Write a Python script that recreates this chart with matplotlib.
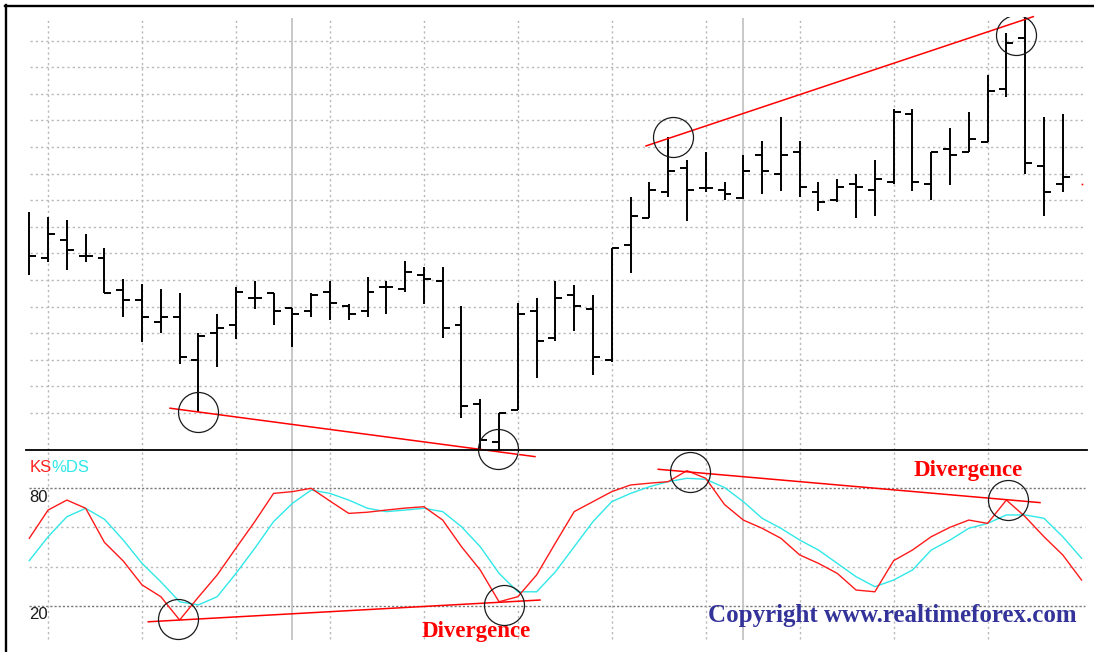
import numpy as np
import matplotlib
matplotlib.use('Agg')
import matplotlib.pyplot as plt
from matplotlib.lines import Line2D

# daily OHLC bars (price in pips above an arbitrary base)
bar_open = [np.nan, 78.2, 85.2, 79.0, 78.3, 66.2, 62.5, 54.2, 56.1, 39.9,
            50.0, 53.1, 63.3, 65.2, 59.4, 58.3, 65.5, 60.2, 58.3, 67.4,
            66.5, 71.9, 69.5, 53.1, 23.4, 9.0, 21.1, 58.3, 48.3, 64.4,
            59.2, 39.8, 83.2, 93.2, 103.2, 112.0, 104.7, 103.8, 100.7, 117.0,
            109.8, 118.0, 103.2, 100.1, 106.0, 103.8, 106.7, 132.3, 106.0, 119.1,
            118.0, 122.0, 141.8, 161.1, 113.0, 106.0]
bar_high = [95.4, 93.5, 92.4, 87.2, 82.0, 70.4, 68.4, 66.5, 65.2, 50.0,
            57.2, 67.3, 69.5, 65.2, 59.4, 65.0, 69.5, 61.0, 71.0, 69.5,
            77.1, 75.0, 75.0, 60.2, 25.3, 20.1, 61.2, 63.3, 69.5, 68.2,
            64.4, 81.9, 101.3, 107.0, 123.9, 115.1, 118.2, 107.0, 117.0, 122.1,
            131.4, 122.1, 107.0, 108.0, 109.8, 115.1, 134.2, 134.2, 118.2, 127.3,
            133.3, 147.1, 162.7, 169.0, 131.2, 132.3]
bar_low = [71.9, 76.8, 73.8, 76.8, 65.2, 56.0, 46.8, 50.0, 38.3, 20.5,
           37.4, 47.9, 59.0, 53.0, 44.9, 56.2, 55.0, 55.0, 56.1, 57.1,
           65.4, 61.1, 48.1, 18.0, 6.1, 5.7, 21.1, 33.3, 47.0, 50.9,
           34.3, 39.3, 72.7, 93.2, 101.3, 92.2, 103.2, 100.1, 100.3, 102.3,
           103.6, 101.3, 96.1, 99.2, 93.2, 94.1, 106.1, 103.6, 100.1, 105.6,
           118.0, 122.0, 138.7, 109.8, 94.1, 103.2]
bar_close = [79.0, 87.2, 81.2, 79.0, 65.2, 62.5, 56.1, 56.1, 41.2, 48.9,
             52.1, 65.5, 63.3, 58.3, 57.2, 64.4, 61.2, 57.2, 65.4, 67.4,
             73.0, 70.4, 52.1, 22.6, 10.0, 20.1, 57.1, 47.0, 63.3, 60.2,
             41.2, 81.9, 94.1, 103.8, 111.0, 103.8, 104.7, 102.3, 111.0, 111.0,
             117.0, 104.8, 99.2, 104.8, 104.8, 107.9, 133.3, 106.7, 118.2, 117.0,
             123.1, 141.1, 159.0, 113.9, 103.2, 108.8]
last_price = 106.0

# slow stochastic
ks = [54.5, 68.9, 74.0, 69.8, 52.4, 42.9, 30.7, 24.7, 12.8, 24.5,
      35.8, 49.5, 63.0, 77.4, 78.3, 80.0, 73.5, 67.2, 67.8, 68.9,
      69.9, 70.6, 63.8, 50.2, 38.3, 22.1, 24.7, 35.8, 52.1, 68.1,
      73.2, 78.3, 81.7, 82.6, 83.4, 89.0, 85.1, 71.7, 63.8, 59.6,
      54.5, 46.0, 41.7, 36.6, 28.1, 27.2, 43.1, 48.5, 55.3, 60.1,
      63.8, 62.1, 74.0, 65.5, 55.3, 46.0, 33.2]
ds = [43.1, 55.3, 65.5, 69.8, 64.2, 53.6, 41.7, 32.3, 22.1, 20.5,
      24.7, 36.6, 49.4, 63.0, 72.3, 79.1, 77.4, 74.0, 69.8, 68.1,
      68.9, 69.8, 68.1, 60.4, 50.2, 36.6, 27.2, 27.2, 37.4, 50.2,
      63.0, 73.2, 77.4, 80.8, 83.4, 85.1, 84.6, 80.4, 73.2, 64.7,
      59.6, 53.6, 48.5, 41.7, 34.9, 29.8, 33.2, 38.3, 48.5, 53.6,
      59.6, 62.1, 66.4, 66.4, 64.7, 55.3, 44.3]

# trend lines (bar, value) and circled points
price_lines = [([7.49, 26.91], [21.8, 3.6]), ([32.82, 53.43], [120.4, 169.0])]
osc_lines = [([6.33, 27.18], [11.9, 23.0]), ([33.47, 53.79], [89.7, 72.7])]
price_circles_x = [8.98, 34.27, 52.51]
price_circles_y = [20.5, 123.6, 162.1]
low_circle = (24.97, 6.5)
osc_circles_x = [7.90, 25.25, 35.16, 52.10]
osc_circles_y = [13.3, 20.5, 88.5, 74.1]

W, H = 1094, 652
fig = plt.figure(figsize=(W / 100, H / 100), dpi=100)
fig.patch.set_facecolor('white')

ax1 = fig.add_axes([7 / W, 1 - 450 / H, 1 - 7 / W, (450 - 16.7) / H])
ax2 = fig.add_axes([7 / W, 0, 1 - 7 / W, 202 / H])
for ax in (ax1, ax2):
    ax.set_xlim(-1.187, 56.663)
    ax.axis('off')
ax1.set_ylim(6.09, 168.98)
ax2.set_ylim(-3.52, 99.54)

grid_col = '#b8b8b8'
dots = (0, (1.6, 2.2))
vgrid = np.arange(1, 52, 5)

# price panel grid
ax1.hlines(np.arange(20, 161, 10), 0.04, 56.2, color=grid_col, lw=1.0, linestyle=dots)
ax1.vlines(vgrid, 6.09, 167.8, color=grid_col, lw=1.0, linestyle=dots)
ax1.vlines([14, 38], 6.09, 168.4, color='#c4c4c4', lw=1.3)

# oscillator grid
ax2.hlines([40, 60], 0.0, 56.2, color=grid_col, lw=1.0, linestyle=dots)
ax2.hlines([20, 80], 0.0, 56.2, color='#7a7a7a', lw=1.0, linestyle=(0, (1.6, 1.4)))
ax2.vlines(vgrid, 3.1, 99.54, color=grid_col, lw=1.0, linestyle=dots)
ax2.vlines([14, 38], 2.6, 99.54, color='#c4c4c4', lw=1.3)

# OHLC bars
x = np.arange(len(bar_high))
o = np.array(bar_open)
has_open = ~np.isnan(o)
tick = 0.37
ax1.vlines(x, bar_low, bar_high, color='black', lw=1.4)
ax1.hlines(o[has_open], x[has_open] - tick, x[has_open], color='black', lw=1.4)
ax1.hlines(bar_close, x, x + tick, color='black', lw=1.4)
ax1.plot([len(bar_high)], [last_price], 's', color='red', ms=1.2, mew=0)

for xs, ys in price_lines:
    ax1.plot(xs, ys, color='red', lw=1.1, clip_on=False)
ax1.plot(price_circles_x, price_circles_y, 'o', ms=28.8, mfc='none',
         mec='#1a1a1a', mew=0.9)
ax1.plot([low_circle[0]], [low_circle[1]], 'o', ms=28.8, mfc='none',
         mec='#1a1a1a', mew=0.9, clip_on=False)

# stochastic lines
xo = np.arange(len(ks))
ax2.plot(xo, ds, color='#30e8e8', lw=1.0)
ax2.plot(xo, ks, color='#ff1a1a', lw=1.0)
for xs, ys in osc_lines:
    ax2.plot(xs, ys, color='red', lw=1.1)
ax2.plot(osc_circles_x, osc_circles_y, 'o', ms=28.8, mfc='none',
         mec='#1a1a1a', mew=0.9)

sans = 'Liberation Sans'
serif = 'Liberation Serif'
ax2.text(0, 88.5, 'KS', color='#ff2020', fontsize=12, family=sans, va='baseline')
ax2.text(1.16, 88.5, '%DS', color='#30e8e8', fontsize=12, family=sans, va='baseline')
ax2.text(0, 79.0, '80', color='#1a1a1a', fontsize=12, family=sans, va='top')
ax2.text(0, 19.6, '20', color='#1a1a1a', fontsize=12, family=sans, va='top')
ax2.text(20.88, 4.3, 'Divergence', color='red', fontsize=16.5, family=serif,
         weight='bold', va='baseline')
ax2.text(47.05, 86.4, 'Divergence', color='red', fontsize=16.5, family=serif,
         weight='bold', va='baseline')
ax2.text(36.14, 11.9, 'Copyright www.realtimeforex.com', color='#333399',
         fontsize=18, family=serif, weight='bold', va='baseline')

# panel divider and window frame
fig.add_artist(Line2D([26 / W, 1087 / W], [1 - 450 / H] * 2, color='black', lw=1.3))
fig.add_artist(Line2D([5 / W, 1], [1 - 5.5 / H] * 2, color='black', lw=1.7))
fig.add_artist(Line2D([5.5 / W] * 2, [0, 1 - 5 / H], color='black', lw=1.7))

fig.savefig('out.png', dpi=100, facecolor='white')
